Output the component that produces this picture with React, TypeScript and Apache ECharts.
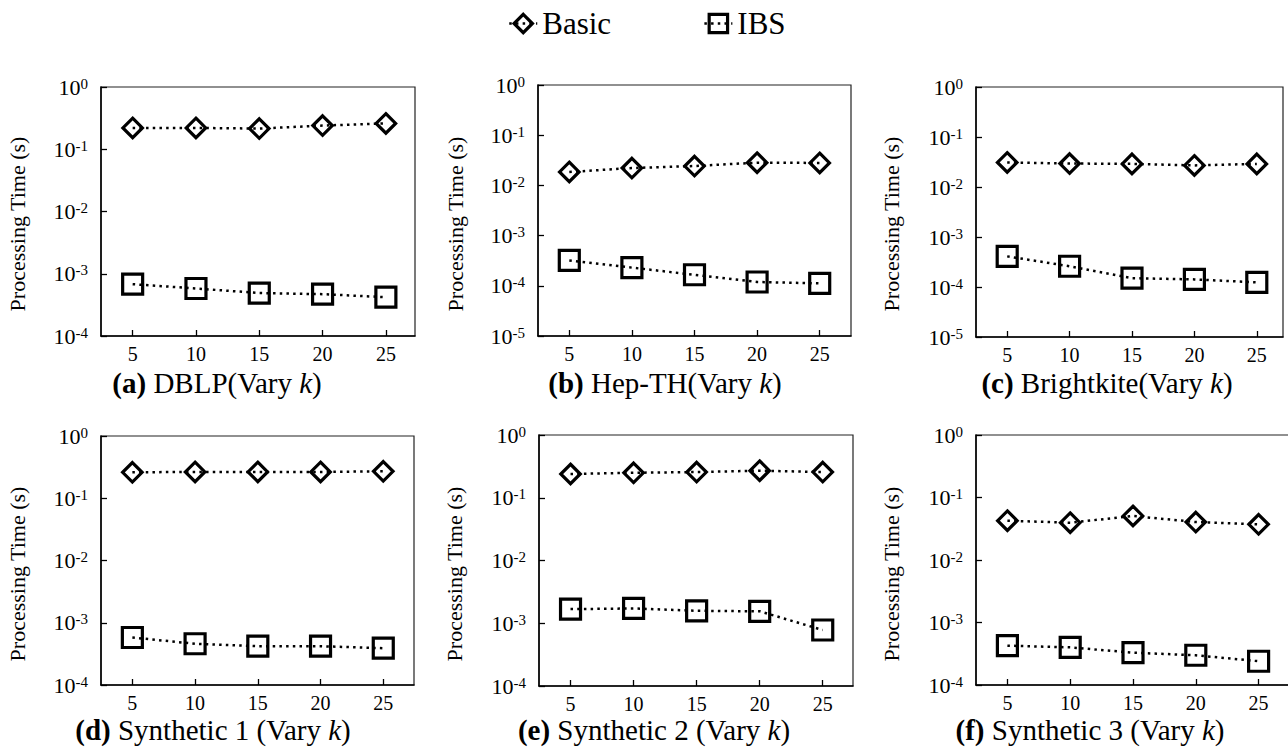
import React, { useEffect, useRef } from "react";
import * as echarts from "echarts";

// ---------- data ----------
const kValues = [5, 10, 15, 20, 25];
const seriesNames = ["Basic", "IBS"];
const panelLetters = ["(a)", "(b)", "(c)", "(d)", "(e)", "(f)"];
const panelTitles = [
  "DBLP(Vary ",
  "Hep-TH(Vary ",
  "Brightkite(Vary ",
  "Synthetic 1 (Vary ",
  "Synthetic 2 (Vary ",
  "Synthetic 3 (Vary ",
];
const yAxisTitle = "Processing Time (s)";

const basicA = [0.22, 0.22, 0.215, 0.24, 0.26];
const basicB = [0.0185, 0.0222, 0.0243, 0.0284, 0.028];
const basicC = [0.031, 0.0295, 0.029, 0.027, 0.029];
const basicD = [0.261, 0.265, 0.265, 0.265, 0.271];
const basicE = [0.239, 0.25, 0.257, 0.27, 0.257];
const basicF = [0.0425, 0.0395, 0.0506, 0.0405, 0.0372];

const ibsA = [6.8e-4, 5.8e-4, 4.9e-4, 4.7e-4, 4.2e-4];
const ibsB = [3.2e-4, 2.3e-4, 1.66e-4, 1.19e-4, 1.12e-4];
const ibsC = [4.1e-4, 2.6e-4, 1.5e-4, 1.42e-4, 1.24e-4];
const ibsD = [5.8e-4, 4.6e-4, 4.2e-4, 4.2e-4, 3.9e-4];
const ibsE = [1.68e-3, 1.72e-3, 1.58e-3, 1.55e-3, 7.8e-4];
const ibsF = [4.26e-4, 4.0e-4, 3.29e-4, 2.99e-4, 2.4e-4];

const basicAll = [basicA, basicB, basicC, basicD, basicE, basicF];
const ibsAll = [ibsA, ibsB, ibsC, ibsD, ibsE, ibsF];

const yMinValues = [1e-4, 1e-5, 1e-5, 1e-4, 1e-4, 1e-4];
const xMinValues = [2.5, 2.5, 2.5, 2.5, 2.5, 2.5];
const xMaxValues = [27.3, 27.5, 27.1, 27.45, 27.4, 27.5];

// ---------- layout ----------
const grids = [
  { left: 101, top: 87, width: 314, height: 249 },
  { left: 538, top: 85, width: 313, height: 251 },
  { left: 976, top: 87, width: 307, height: 250 },
  { left: 101, top: 436, width: 313, height: 249 },
  { left: 539, top: 435, width: 314, height: 251 },
  { left: 976, top: 435, width: 314, height: 250 },
];
const subtitlePos = [
  [217, 383],
  [665, 383],
  [1107, 383],
  [213, 730],
  [654, 730],
  [1090, 730],
];
const yNamePos = [
  [17.5, 224],
  [455.5, 224],
  [891.5, 224],
  [17.5, 574],
  [454, 574],
  [891.5, 574],
];

const FONT = "'Liberation Serif', 'Times New Roman', serif";

function buildOption() {
  const grid = grids.map((g) => ({
    ...g,
    show: true,
    borderColor: "#222",
    borderWidth: 1.2,
    backgroundColor: "transparent",
    containLabel: false,
    outerBoundsMode: "none",
  }));

  const xAxis = grids.map((_, i) => ({
    type: "value",
    gridIndex: i,
    min: xMinValues[i],
    max: xMaxValues[i],
    axisLine: { show: true, onZero: false, lineStyle: { color: "#000", width: 1.5 } },
    axisTick: {
      show: true,
      inside: true,
      length: 6,
      customValues: kValues,
      lineStyle: { color: "#000", width: 1.3 },
    },
    axisLabel: {
      customValues: kValues,
      fontSize: 20,
      lineHeight: 20,
      fontFamily: FONT,
      color: "#000",
      margin: 8,
    },
    splitLine: { show: false },
  }));

  const yAxis = grids.map((_, i) => ({
    type: "log",
    logBase: 10,
    gridIndex: i,
    min: yMinValues[i],
    max: 1,
    axisLine: { show: true, onZero: false, lineStyle: { color: "#000", width: 1.5 } },
    axisTick: { show: true, inside: true, length: 6, lineStyle: { color: "#000", width: 1.3 } },
    minorTick: { show: false },
    splitLine: { show: false },
    axisLabel: {
      margin: 13,
      formatter: (v: number) => {
        const e = Math.round(Math.log10(v));
        return `{b|10}{s|${e}}`;
      },
      rich: {
        b: {
          fontSize: 22,
          fontFamily: FONT,
          color: "#000",
          lineHeight: 22,
          padding: [5, 0, 0, 0],
          verticalAlign: "bottom",
        },
        s: {
          fontSize: 15,
          fontFamily: FONT,
          color: "#000",
          lineHeight: 15,
          verticalAlign: "top",
        },
      },
    },
  }));

  const itemStyle = { color: "rgba(0,0,0,0)", borderColor: "#000", borderWidth: 3.2 };
  const lineStyle = { color: "#000", width: 2.5, type: [2.5, 4.2] as number[], cap: "butt" };

  const series: any[] = [];
  grids.forEach((_, i) => {
    series.push({
      type: "line",
      name: seriesNames[0],
      xAxisIndex: i,
      yAxisIndex: i,
      data: kValues.map((k, j) => [k, basicAll[i][j]]),
      symbol: "diamond",
      symbolSize: 19.5,
      itemStyle,
      lineStyle,
      emphasis: { disabled: true },
    });
    series.push({
      type: "line",
      name: seriesNames[1],
      xAxisIndex: i,
      yAxisIndex: i,
      data: kValues.map((k, j) => [k, ibsAll[i][j]]),
      symbol: "rect",
      symbolSize: 20,
      itemStyle,
      lineStyle,
      emphasis: { disabled: true },
    });
  });

  const graphic: any[] = [];
  grids.forEach((_, i) => {
    graphic.push({
      type: "text",
      x: subtitlePos[i][0],
      y: subtitlePos[i][1],
      style: {
        text: `{b|${panelLetters[i]}} ${panelTitles[i]}{i|k})`,
        fontSize: 29,
        lineHeight: 24,
        fontFamily: FONT,
        fill: "#000",
        align: "center",
        verticalAlign: "middle",
        rich: {
          b: { fontWeight: "bold", fontSize: 29, lineHeight: 24, fontFamily: FONT, fill: "#000" },
          i: { fontStyle: "italic", fontSize: 29, lineHeight: 24, fontFamily: FONT, fill: "#000" },
        },
      },
    });
    graphic.push({
      type: "text",
      x: yNamePos[i][0],
      y: yNamePos[i][1],
      rotation: Math.PI / 2,
      style: {
        text: yAxisTitle,
        fontSize: 22,
        fontFamily: FONT,
        fill: "#000",
        align: "center",
        verticalAlign: "middle",
      },
    });
  });

  return {
    animation: false,
    backgroundColor: "#fff",
    legend: {
      data: seriesNames,
      left: 508,
      top: 8,
      padding: 0,
      itemWidth: 28,
      itemHeight: 23,
      itemGap: 92,
      itemStyle: { color: "rgba(0,0,0,0)", borderColor: "#000", borderWidth: 3.2 },
      lineStyle: { color: "#000", width: 2.5, type: [2.5, 4.2] },
      textStyle: { fontSize: 31, fontFamily: FONT, color: "#000" },
      selectedMode: false,
    },
    grid,
    xAxis,
    yAxis,
    series,
    graphic,
  };
}

export default function App() {
  const ref = useRef<HTMLDivElement>(null);
  useEffect(() => {
    if (!ref.current) return;
    const chart = echarts.init(ref.current, null, { renderer: "svg" });
    chart.setOption(buildOption() as any);
    return () => chart.dispose();
  }, []);
  return (
    <div
      ref={ref}
      style={{ position: "fixed", left: 0, top: 0, width: 1288, height: 747, background: "#fff" }}
    />
  );
}
